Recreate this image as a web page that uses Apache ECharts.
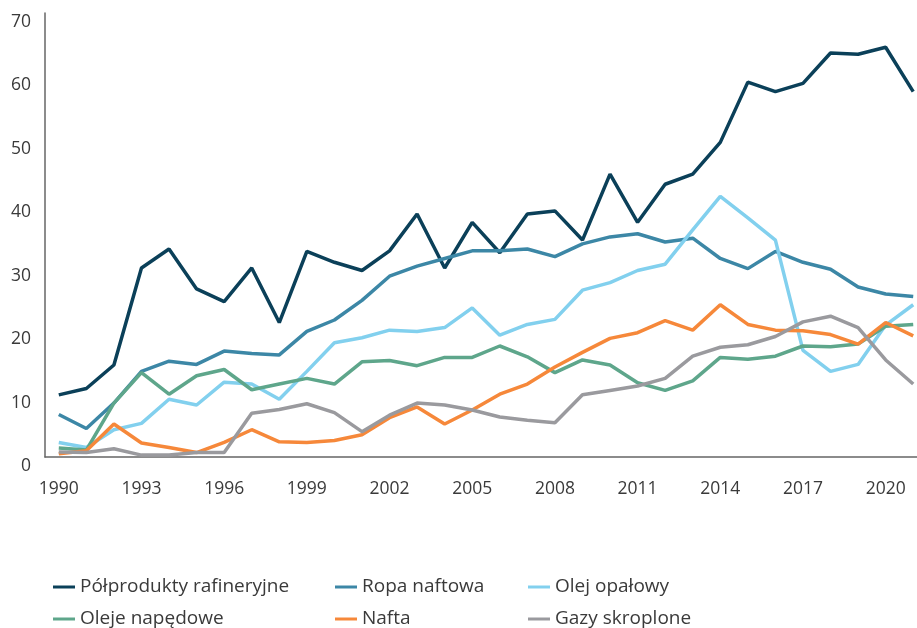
<!DOCTYPE html>
<html>
<head>
<meta charset="utf-8">
<script src="https://cdn.jsdelivr.net/npm/echarts@6/dist/echarts.min.js"></script>
<style>html,body{margin:0;padding:0;background:#fff}#c{width:917px;height:628px}</style>
</head>
<body>
<div id="c"></div>
<script>
const years = ['1990','1991','1992','1993','1994','1995','1996','1997','1998','1999','2000','2001','2002','2003','2004','2005','2006','2007','2008','2009','2010','2011','2012','2013','2014','2015','2016','2017','2018','2019','2020','2021'];
const polprodukty = [9.8,10.8,14.5,29.8,32.8,26.5,24.5,29.8,21.2,32.4,30.7,29.4,32.5,38.3,29.8,37.0,32.2,38.3,38.8,34.2,44.6,37.0,43.0,44.6,49.6,59.1,57.6,58.9,63.7,63.5,64.6,57.6];
const ropa = [6.7,4.5,8.5,13.5,15.1,14.6,16.7,16.3,16.1,19.8,21.6,24.7,28.5,30.1,31.3,32.5,32.5,32.8,31.6,33.6,34.7,35.2,33.9,34.5,31.3,29.7,32.4,30.7,29.6,26.8,25.7,25.3];
const olejOpalowy = [2.3,1.5,4.3,5.3,9.1,8.2,11.8,11.5,9.1,13.5,18.0,18.8,20.0,19.8,20.4,23.5,19.2,20.9,21.7,26.3,27.5,29.4,30.4,35.8,41.1,37.7,34.2,16.8,13.5,14.6,20.8,24.0];
const olejeNapedowe = [1.4,1.1,8.5,13.3,9.9,12.8,13.8,10.6,11.5,12.4,11.5,15.0,15.2,14.4,15.7,15.7,17.5,15.8,13.3,15.3,14.5,11.7,10.5,12.0,15.7,15.4,15.9,17.5,17.4,17.8,20.6,20.9];
const nafta = [0.5,1.0,5.2,2.2,1.5,0.7,2.3,4.3,2.4,2.3,2.6,3.5,6.2,7.9,5.2,7.4,9.9,11.5,14.2,16.5,18.7,19.6,21.5,20.0,24.0,20.9,20.0,19.9,19.3,17.8,21.2,19.1];
const gazy = [0.8,0.7,1.3,0.3,0.3,0.7,0.7,6.9,7.5,8.4,7.0,4.0,6.6,8.5,8.2,7.4,6.3,5.8,5.4,9.8,10.5,11.2,12.4,15.9,17.3,17.7,19.0,21.3,22.2,20.4,15.3,11.5];

const names = ['Półprodukty rafineryjne','Ropa naftowa','Olej opałowy','Oleje napędowe','Nafta','Gazy skroplone'];
const colors = ['#0b4059','#3c87a6','#82d0ee','#5ea68b','#f6883a','#9a9a9e'];
const dataSets = [polprodukty, ropa, olejOpalowy, olejeNapedowe, nafta, gazy];
const legendLeft = [48, 330, 523, 48, 330, 523];
const legendTop = [571, 571, 571, 603, 603, 603];

const font = '"Open Sans"';
const txt = '#3a3a3a';

const chart = echarts.init(document.getElementById('c'));
chart.setOption({
  animation: false,
  backgroundColor: '#fff',
  grid: { left: 45, width: 882, top: 13, bottom: 171, outerBoundsMode: 'none', containLabel: false },
  legend: names.map((n, i) => ({
    left: legendLeft[i], top: legendTop[i],
    icon: 'rect', itemWidth: 22, itemHeight: 3,
    textStyle: { fontFamily: font, fontSize: 19, color: txt, lineHeight: 22 },
    data: [n]
  })),
  xAxis: {
    type: 'category', data: years, boundaryGap: true,
    axisLine: { lineStyle: { color: '#666', width: 1.5 } },
    axisTick: { show: false },
    axisLabel: { interval: 2, margin: 23, fontFamily: font, fontSize: 17.5, color: txt, verticalAlign: 'top' },
    splitLine: { show: false }
  },
  yAxis: {
    type: 'value', min: 0, max: 70, interval: 10,
    axisLine: { show: true, lineStyle: { color: '#666', width: 1.5 } },
    axisTick: { show: false },
    axisLabel: { margin: 14, fontFamily: font, fontSize: 17.5, color: txt, verticalAlign: 'top' },
    splitLine: { show: false }
  },
  series: names.map((n, i) => ({
    name: n, type: 'line', data: dataSets[i],
    symbol: 'none', color: colors[i],
    lineStyle: { width: 3.5, color: colors[i] }
  }))
});
</script>
</body>
</html>
